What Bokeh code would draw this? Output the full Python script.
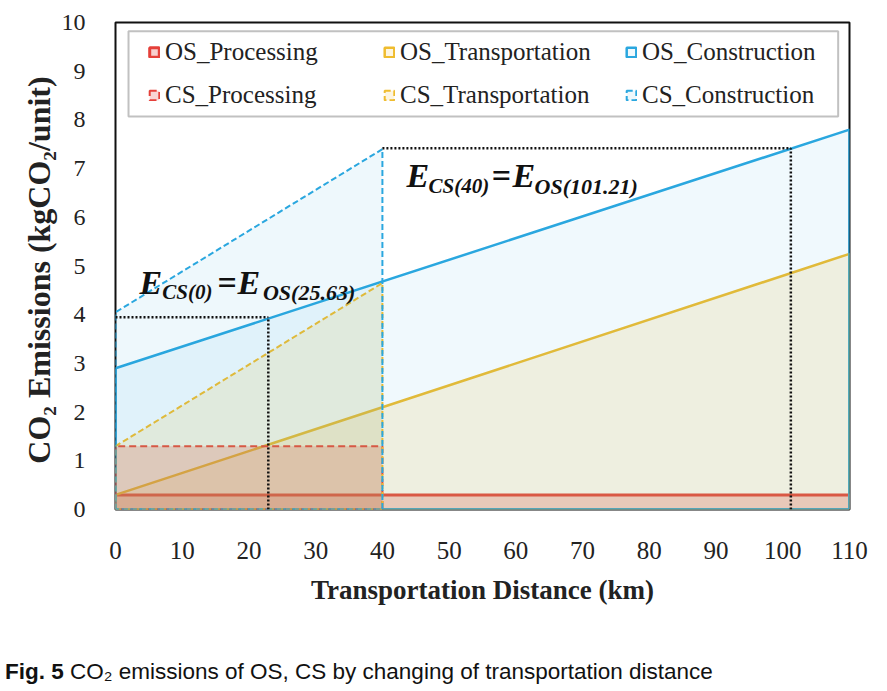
from bokeh.plotting import figure
from bokeh.layouts import column
from bokeh.models import Range1d, Label, Legend, LegendItem, BoxAnnotation, FixedTicker, Div
from bokeh.embed import file_html
from bokeh.resources import INLINE

# ---- data ----
distance_os = [0, 110]
distance_cs = [0, 40]
os_processing = [0.3, 0.3]
os_transportation = [0.3, 5.25]
os_construction = [2.9, 7.8]
cs_processing = [1.3, 1.3]
cs_transportation = [1.3, 4.65]
cs_construction = [4.05, 7.4]
equal_x = [22.9, 101.21]
equal_y = [3.95, 7.42]
x_ticks = list(range(0, 111, 10))
y_ticks = list(range(0, 11))

RED = "#e5403a"
YEL = "#efbc2e"
BLUE = "#2aa7df"
SERIF = "Liberation Serif"

W, H = 871, 651
p = figure(width=W, height=H, output_backend="svg", toolbar_location=None,
           x_range=Range1d(0, 110), y_range=Range1d(0, 10),
           min_border_left=115, min_border_right=22, min_border_top=22,
           min_border_bottom=H - 509)
p.xgrid.visible = False
p.ygrid.visible = False
p.outline_line_color = "#111111"
p.outline_line_width = 2
p.background_fill_color = "white"

def area(xs, ys):
    return [xs[0], xs[0], xs[-1], xs[-1]], [0, ys[0], ys[-1], 0]

series = [
    ("OS_Processing", distance_os, os_processing, RED, 0.25, "solid", 3),
    ("OS_Transportation", distance_os, os_transportation, YEL, 0.15, "solid", 2.5),
    ("OS_Construction", distance_os, os_construction, BLUE, 0.07, "solid", 2.5),
    ("CS_Processing", distance_cs, cs_processing, RED, 0.22, "7 4", 2),
    ("CS_Transportation", distance_cs, cs_transportation, YEL, 0.15, "6 3", 2),
    ("CS_Construction", distance_cs, cs_construction, BLUE, 0.08, "6 3", 2),
]
rend = {}
for name, xs, ys, col, a, dash, lw in series:
    px, py = area(xs, ys)
    rend[name] = p.patch(x=px, y=py, fill_color=col, fill_alpha=a,
                         line_color=col, line_width=lw, line_dash=dash)

# dotted equivalence guides
dot = dict(line_color="#111111", line_width=2.5, line_dash="2 2")
p.line(x=[distance_cs[0], equal_x[0]], y=[equal_y[0], equal_y[0]], **dot)
p.line(x=[equal_x[0], equal_x[0]], y=[0, equal_y[0]], **dot)
p.line(x=[distance_cs[-1], equal_x[1]], y=[equal_y[1], equal_y[1]], **dot)
p.line(x=[equal_x[1], equal_x[1]], y=[0, equal_y[1]], **dot)

# axes
p.xaxis.ticker = FixedTicker(ticks=x_ticks)
p.yaxis.ticker = FixedTicker(ticks=y_ticks)
for ax in (p.xaxis[0], p.yaxis[0]):
    ax.axis_line_color = None
    ax.major_tick_line_color = None
    ax.minor_tick_line_color = None
    ax.major_label_text_font = SERIF
    ax.major_label_text_color = "#222222"
    ax.axis_label_text_font = SERIF
    ax.axis_label_text_font_style = "bold"
    ax.axis_label_text_color = "#222222"
p.xaxis.major_label_text_font_size = "25px"
p.yaxis.major_label_text_font_size = "24px"
p.xaxis.axis_label_text_font_size = "27px"
p.yaxis.axis_label_text_font_size = "32px"
p.xaxis.axis_label = "Transportation Distance (km)"
p.yaxis.axis_label = "CO\u2082 Emissions  (kgCO\u2082/unit)"
p.xaxis.major_label_standoff = 26
p.yaxis.major_label_standoff = 24
p.xaxis.axis_label_standoff = 13
p.yaxis.axis_label_standoff = 2

# legend box
p.add_layout(BoxAnnotation(left=1.95, right=108.3, bottom=8.07, top=9.82,
                           fill_color="white", fill_alpha=1.0,
                           line_color="#333333", line_width=2))
cols = [("OS_Processing", "CS_Processing", 33),
        ("OS_Transportation", "CS_Transportation", 268),
        ("OS_Construction", "CS_Construction", 510)]
for a, b, lx in cols:
    lg = Legend(items=[LegendItem(label=a, renderers=[rend[a]]),
                       LegendItem(label=b, renderers=[rend[b]])],
                location=(lx, 400), orientation="vertical",
                padding=0, margin=0, spacing=15,
                glyph_width=12, glyph_height=12, label_standoff=5,
                border_line_color=None, background_fill_alpha=0,
                label_text_font=SERIF, label_text_font_size="25px",
                label_text_color="#222222")
    p.add_layout(lg)

# equivalence annotations
def eq_label(parts):
    for txt, x, y, size, style in parts:
        p.add_layout(Label(x=x, y=y, text=txt, text_font=SERIF, text_font_size=size,
                           text_font_style=style, text_color="#111111",
                           text_baseline="alphabetic"))

eq_label([("E", 3.6, 4.66, "34px", "bold italic"),
          ("CS(0)", 7.0, 4.46, "21px", "bold italic"),
          ("=", 15.3, 4.66, "34px", "bold"),
          ("E", 18.3, 4.66, "34px", "bold italic"),
          ("OS(25.63)", 22.1, 4.45, "22px", "bold italic")])
eq_label([("E", 43.6, 6.85, "34px", "bold italic"),
          ("CS(40)", 46.9, 6.65, "21px", "bold italic"),
          ("=", 56.4, 6.85, "34px", "bold"),
          ("E", 59.5, 6.85, "34px", "bold italic"),
          ("OS(101.21)", 62.8, 6.64, "22px", "bold italic")])

# caption
caption = Div(text="<b>Fig. 5</b> CO\u2082 emissions of OS, CS by changing of transportation distance",
              width=W, height=34,
              styles={"font-family": "Liberation Sans, Arial, sans-serif", "font-size": "22.5px",
                      "color": "#111111", "white-space": "nowrap"})

open("out.html", "w").write(file_html(column(p, caption), INLINE))
